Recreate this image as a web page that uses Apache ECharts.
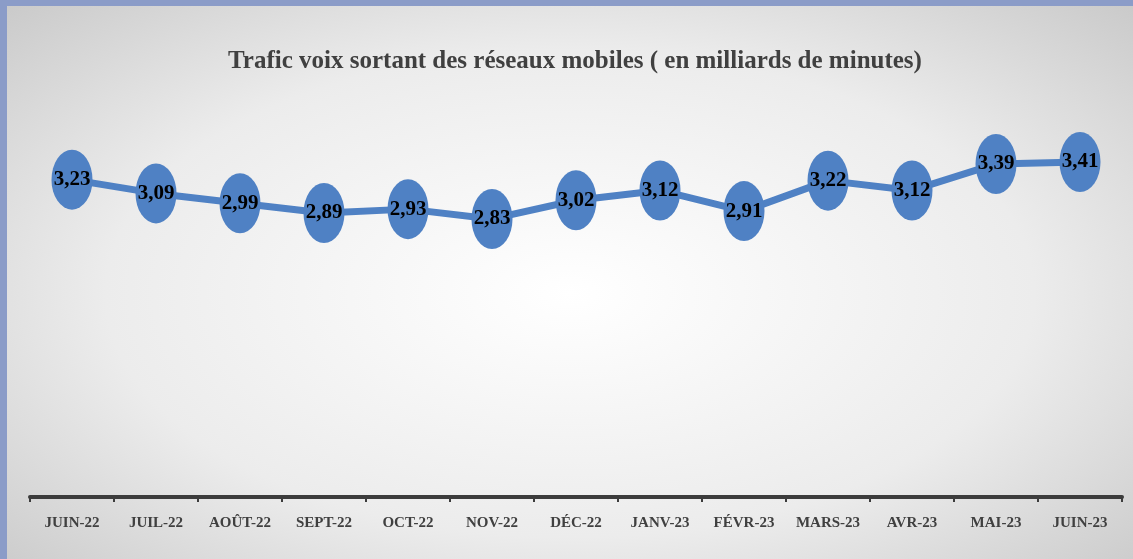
<!DOCTYPE html>
<html>
	<head>
		<title>Trafic voix sortant</title>
		<meta charset="utf-8"/>
		<style type="text/css">
			*{margin: 0;padding: 0;}
			html,body{
				width: 1133px;
				height: 559px;
				overflow: hidden;
				background-color: #8b9cc8;
			}
			.chart{
				position: absolute;
				left: 7px;
				top: 6px;
				width: 1126px;
				height: 553px;
				background: radial-gradient(ellipse 75% 80% at 50% 52%, #ffffff 0%, #ececec 55%, #c4c4c4 100%);
			}
		</style>
		<script type="text/javascript" src="https://cdn.jsdelivr.net/npm/echarts@6/dist/echarts.min.js"></script>
	</head>
	<body>
		<div class="chart js-chart"></div>
		<script type="text/javascript">
			var months=["JUIN-22","JUIL-22","AOÛT-22","SEPT-22","OCT-22","NOV-22","DÉC-22","JANV-23","FÉVR-23","MARS-23","AVR-23","MAI-23","JUIN-23"];
			var trafic=[3.23,3.09,2.99,2.89,2.93,2.83,3.02,3.12,2.91,3.22,3.12,3.39,3.41];
			var titre="Trafic voix sortant des réseaux mobiles ( en milliards de minutes)";

			var chart=echarts.init(document.querySelector('.js-chart'));
			var blue="#4f81c4";
			chart.setOption({
				animation:false,
				title:{
					text:titre,
					left:216,
					top:38,
					textStyle:{
						fontFamily:"Liberation Serif",
						fontWeight:"bold",
						fontSize:25,
						color:"#404040"
					}
				},
				grid:{
					left:23,
					right:11,
					top:98,
					bottom:62
				},
				xAxis:{
					type:"category",
					data:months,
					boundaryGap:true,
					axisLine:{lineStyle:{color:"#3c3c3c",width:4}},
					axisTick:{show:true,length:5,lineStyle:{color:"#3c3c3c",width:2}},
					axisLabel:{
						margin:19,
						fontFamily:"Liberation Serif",
						fontWeight:"bold",
						fontSize:15,
						color:"#404040"
					}
				},
				yAxis:{
					type:"value",
					min:0,
					max:4,
					show:false,
					splitLine:{show:false}
				},
				series:[{
					type:"line",
					data:trafic,
					symbol:"circle",
					symbolSize:[41,60],
					itemStyle:{color:blue},
					lineStyle:{color:blue,width:7},
					label:{
						show:true,
						position:"inside",
						fontFamily:"Liberation Serif",
						fontWeight:"bold",
						fontSize:21,
						color:"#000",
						formatter:function(p){
							return p.value.toFixed(2).replace(".",",");
						}
					}
				}]
			});
		</script>
	</body>
</html>
